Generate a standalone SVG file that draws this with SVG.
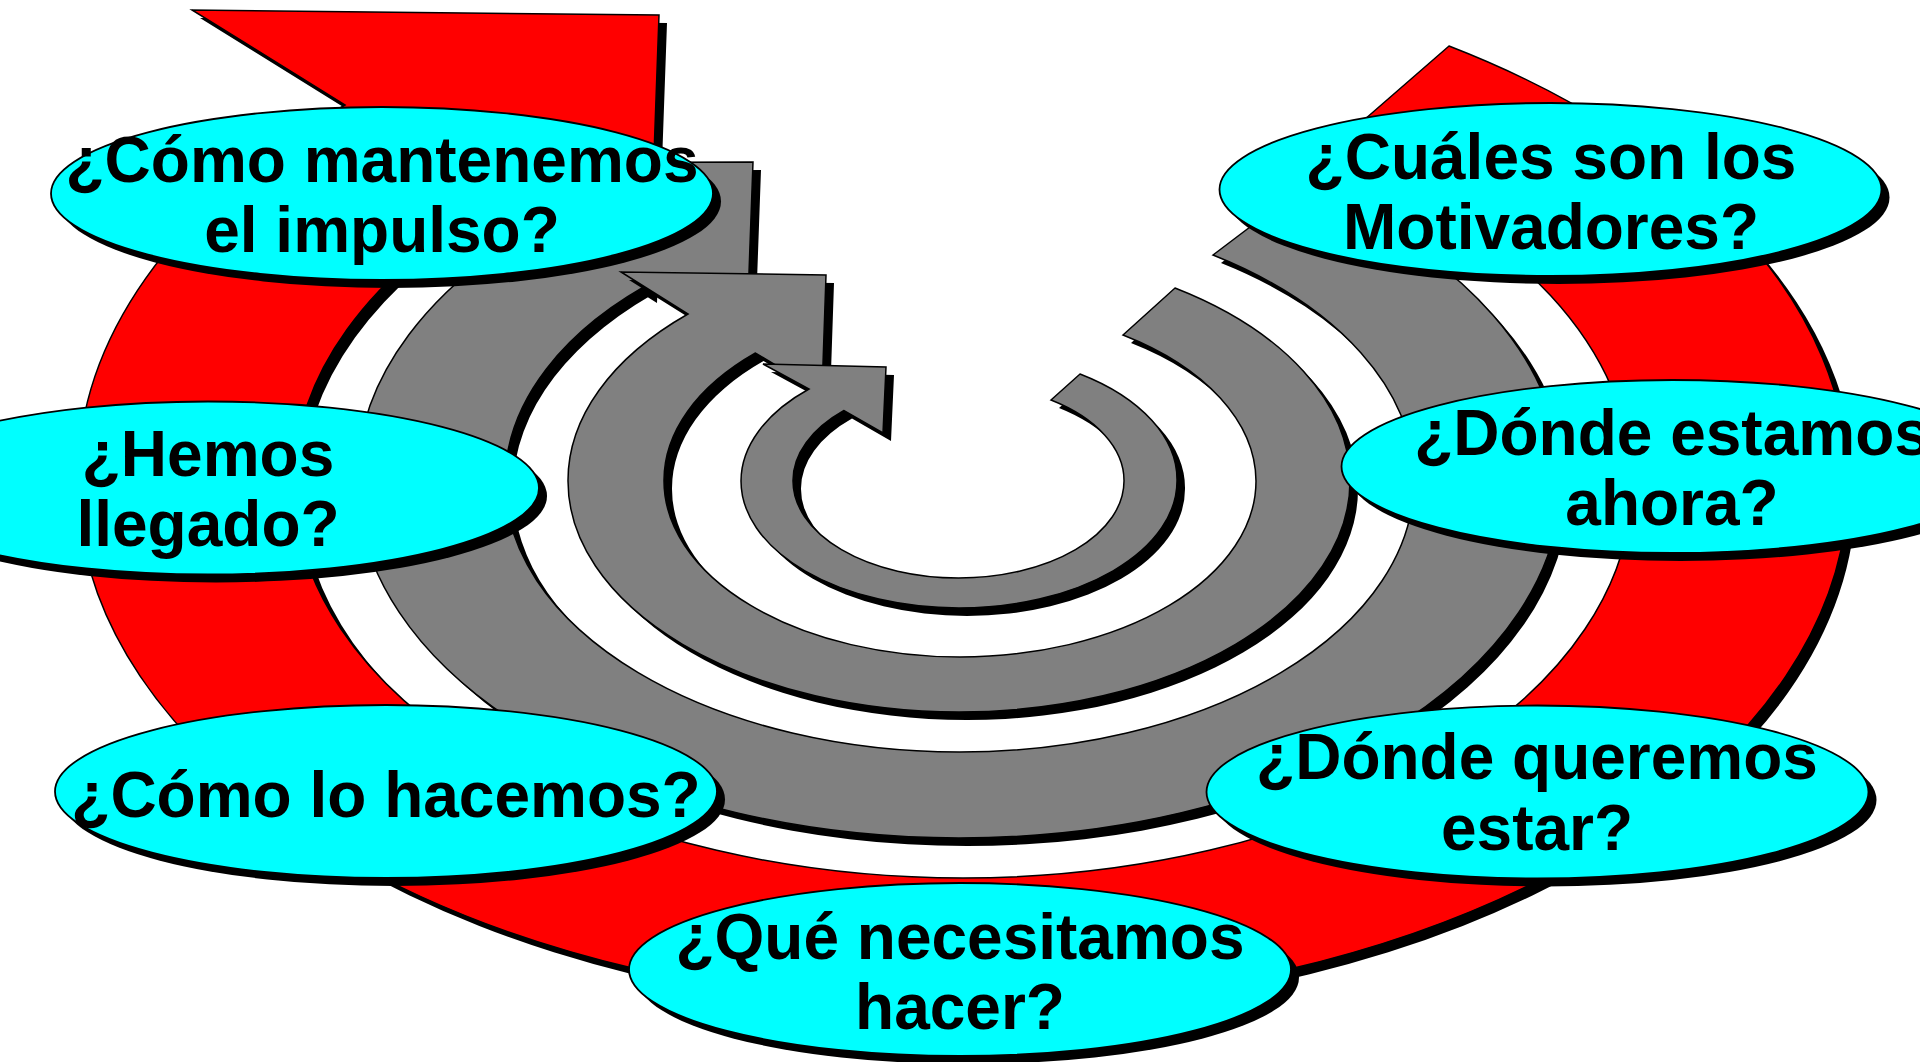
<svg xmlns="http://www.w3.org/2000/svg" xmlns:xlink="http://www.w3.org/1999/xlink" width="1920" height="1062" viewBox="0 0 1920 1062">
<style>
.sh{fill:#000;stroke:none}
.red{fill:#FF0000;stroke:#000;stroke-width:1.5;stroke-linejoin:miter}
.gray{fill:#808080;stroke:#000;stroke-width:1.5;stroke-linejoin:miter}
.bub{fill:#00FFFF;stroke:#000;stroke-width:1.8}
.t{font-family:"Liberation Sans",Arial,sans-serif;font-weight:bold;font-size:64px;fill:#000;text-anchor:middle}
</style>
<defs>
<path id="pR" d="M1326,153 L1449,46 A885,522 0 0 1 1848,484 A885,522 0 0 1 963,1006 A885,522 0 0 1 78,484 A885,522 0 0 1 345,105 L192,10 L659,15 L649,295 L498,200 A669,394 0 0 0 294,484 A669,394 0 0 0 963,878 A669,394 0 0 0 1632,484 A669,394 0 0 0 1326,153 Z"/>
<path id="pG1" d="M1213,255 L1303,187 A602,357 0 0 1 1561,481 A602,357 0 0 1 959,838 A602,357 0 0 1 357,481 A602,357 0 0 1 557,214 L471,163 L753,162 L747,328 L662,277 A454.5,271 0 0 0 505,481 A454.5,271 0 0 0 959.5,752 A454.5,271 0 0 0 1414,481 A454.5,271 0 0 0 1213,255 Z"/>
<path id="pG2" d="M1123,335 L1175,288 A391,231 0 0 1 1350,481 A391,231 0 0 1 959,712 A391,231 0 0 1 568,481 A391,231 0 0 1 688,314 L621,272 L826,275 L822,393 L755.5,353 A296,176 0 0 0 664,481 A296,176 0 0 0 960,657 A296,176 0 0 0 1256,481 A296,176 0 0 0 1123,335 Z"/>
<path id="pG3" d="M1051,400 L1080,374 A218,127 0 0 1 1177,481 A218,127 0 0 1 959,608 A218,127 0 0 1 741,481 A218,127 0 0 1 809,389 L763,364 L886,367 L883,433 L844,410.5 A165.5,97 0 0 0 793,481 A165.5,97 0 0 0 958.5,578 A165.5,97 0 0 0 1124,481 A165.5,97 0 0 0 1051,400 Z"/>
<ellipse id="bub" cx="0" cy="0" rx="331" ry="86.5"/>
</defs>
<rect width="1920" height="1062" fill="#fff"/>
<g id="connectors">
<g id="arrow-red">
<use xlink:href="#pR" href="#pR" class="sh" transform="translate(8,8)"/>
<use xlink:href="#pR" href="#pR" class="red"/>
</g>
<g id="arrow-gray-1">
<use xlink:href="#pG1" href="#pG1" class="sh" transform="translate(8,8)"/>
<use xlink:href="#pG1" href="#pG1" class="gray"/>
</g>
<g id="arrow-gray-2">
<use xlink:href="#pG2" href="#pG2" class="sh" transform="translate(8,8)"/>
<use xlink:href="#pG2" href="#pG2" class="gray"/>
</g>
<g id="arrow-gray-3">
<use xlink:href="#pG3" href="#pG3" class="sh" transform="translate(8,8)"/>
<use xlink:href="#pG3" href="#pG3" class="gray"/>
</g>
</g>
<g id="n-impulso">
<use xlink:href="#bub" href="#bub" class="sh" transform="translate(390,201.5)"/>
<use xlink:href="#bub" href="#bub" class="bub" transform="translate(382,193.5)"/>
<text class="t" x="382" y="182">¿Cómo mantenemos</text>
<text class="t" x="382" y="252">el impulso?</text>
</g>
<g id="n-motivadores">
<use xlink:href="#bub" href="#bub" class="sh" transform="translate(1558.5,197.5)"/>
<use xlink:href="#bub" href="#bub" class="bub" transform="translate(1550.5,189.5)"/>
<text class="t" x="1551" y="179">¿Cuáles son los</text>
<text class="t" x="1551" y="249">Motivadores?</text>
</g>
<g id="n-llegado">
<use xlink:href="#bub" href="#bub" class="sh" transform="translate(216,496)"/>
<use xlink:href="#bub" href="#bub" class="bub" transform="translate(208,488)"/>
<text class="t" x="208" y="476">¿Hemos</text>
<text class="t" x="208" y="546">llegado?</text>
</g>
<g id="n-ahora">
<use xlink:href="#bub" href="#bub" class="sh" transform="translate(1680.5,474.5)"/>
<use xlink:href="#bub" href="#bub" class="bub" transform="translate(1672.5,466.5)"/>
<text class="t" x="1672" y="455">¿Dónde estamos</text>
<text class="t" x="1672" y="525">ahora?</text>
</g>
<g id="n-hacemos">
<use xlink:href="#bub" href="#bub" class="sh" transform="translate(394,799.5)"/>
<use xlink:href="#bub" href="#bub" class="bub" transform="translate(386,791.5)"/>
<text class="t" x="386" y="817">¿Cómo lo hacemos?</text>
</g>
<g id="n-estar">
<use xlink:href="#bub" href="#bub" class="sh" transform="translate(1545.5,800)"/>
<use xlink:href="#bub" href="#bub" class="bub" transform="translate(1537.5,792)"/>
<text class="t" x="1537" y="779">¿Dónde queremos</text>
<text class="t" x="1537" y="850">estar?</text>
</g>
<g id="n-hacer">
<use xlink:href="#bub" href="#bub" class="sh" transform="translate(968,977.5)"/>
<use xlink:href="#bub" href="#bub" class="bub" transform="translate(960,969.5)"/>
<text class="t" x="960" y="959">¿Qué necesitamos</text>
<text class="t" x="960" y="1029">hacer?</text>
</g>
</svg>
